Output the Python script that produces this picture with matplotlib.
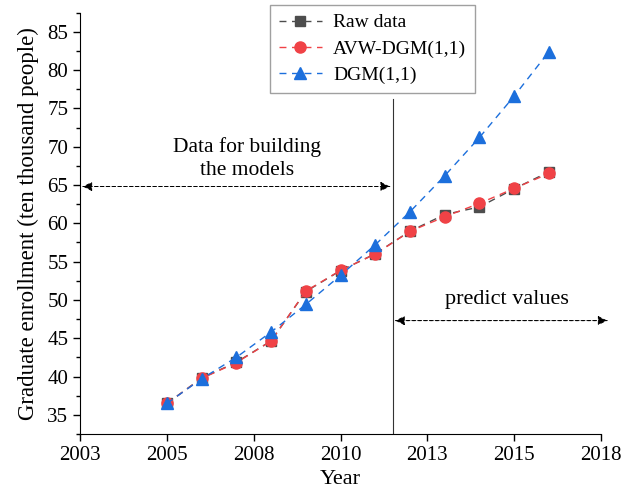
import numpy as np
import matplotlib.pyplot as plt

plt.rcParams['font.family'] = ['Liberation Serif', 'DejaVu Serif']

years = np.arange(2005, 2017)
raw = [36.48, 39.79, 41.86, 44.64, 51.09, 53.82, 56.02, 58.97, 61.14, 62.13, 64.51, 66.71]
avw_dgm = [36.48, 39.75, 41.80, 44.62, 51.15, 53.85, 55.98, 58.95, 60.85, 62.60, 64.55, 66.50]
dgm = [36.48, 39.70, 42.50, 45.80, 49.40, 53.20, 57.20, 61.50, 66.20, 71.20, 76.60, 82.40]

tick_pos = [2002.5, 2005, 2007.5, 2010, 2012.5, 2015, 2017.5]
tick_labels = ['2003', '2005', '2008', '2010', '2013', '2015', '2018']

split_year = 2011.5

fig = plt.figure(figsize=(6.28, 4.94), dpi=100)
ax = fig.add_axes([0.1274, 0.1215, 0.8296, 0.853])

ax.plot(years, raw, '--s', color='#4d4d4d', ms=6.5, lw=1, label='Raw data', dashes=(5, 4))
ax.plot(years, avw_dgm, '--o', color='#f04246', ms=8, lw=1, label='AVW-DGM(1,1)', dashes=(5, 4))
ax.plot(years, dgm, '--^', color='#1c6fdc', ms=8.5, lw=1, label='DGM(1,1)', dashes=(5, 4))

ax.set_xlim(2002.5, 2017.5)
ax.set_ylim(32.5, 87.5)
ax.set_xticks(tick_pos)
ax.set_xticklabels(tick_labels)
ax.set_yticks(np.arange(35, 86, 5))
ax.set_yticks(np.arange(32.5, 88, 2.5), minor=True)
ax.tick_params(axis='both', labelsize=15, direction='out', length=5, width=1)
ax.tick_params(axis='y', which='minor', length=3, width=1)
ax.spines['top'].set_visible(False)
ax.spines['right'].set_visible(False)

ax.set_xlabel('Year', fontsize=16, labelpad=4)
ax.set_ylabel('Graduate enrollment (ten thousand people)', fontsize=16.5, labelpad=6)

# split between fitting and forecasting periods
ax.plot([split_year, split_year], [32.5, 76.2], color='#333333', lw=0.8)

arrow = dict(arrowstyle='-|>', linestyle=(0, (3, 3)), color='black', lw=0.7,
             mutation_scale=14)
ax.annotate('', xy=(2002.5, 64.8), xytext=(split_year, 64.8),
            arrowprops=dict(arrow), annotation_clip=False)
ax.annotate('', xy=(split_year, 64.8), xytext=(2002.5, 64.8),
            arrowprops=dict(arrow), annotation_clip=False)
ax.annotate('', xy=(split_year, 47.3), xytext=(2017.76, 47.3),
            arrowprops=dict(arrow), annotation_clip=False)
ax.annotate('', xy=(2017.76, 47.3), xytext=(split_year, 47.3),
            arrowprops=dict(arrow), annotation_clip=False)

ax.text(2007.3, 68.4, 'Data for building\nthe models', fontsize=15.5,
        ha='center', va='center', linespacing=1.3)
ax.text(2014.8, 50.1, 'predict values', fontsize=16, ha='center', va='center')

ax.legend(loc='upper left', bbox_to_anchor=(270 / 628, 1 - 5 / 494),
          bbox_transform=fig.transFigure, fontsize=14, frameon=True,
          fancybox=False, edgecolor='#888888', borderpad=0.45,
          handlelength=2.2, labelspacing=0.45, borderaxespad=0,
          handletextpad=0.6)

fig.savefig('out.png', dpi=100)
